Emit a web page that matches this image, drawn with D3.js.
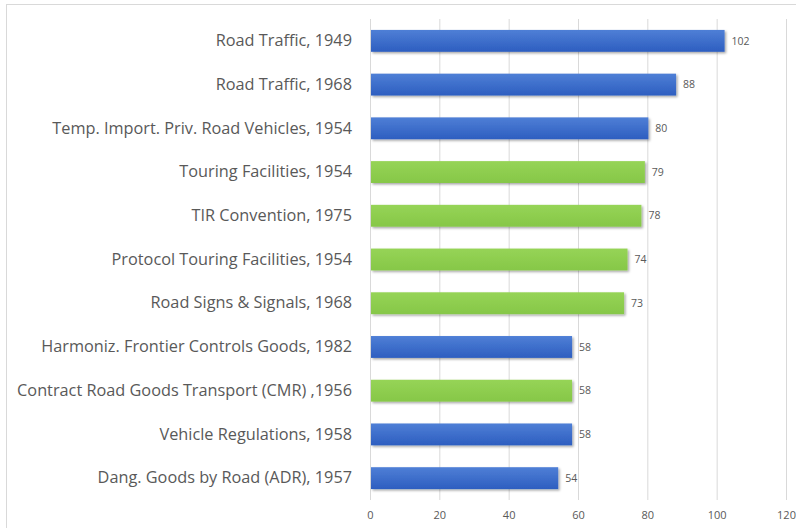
<!DOCTYPE html>
<meta charset="utf-8">
<script src="https://d3js.org/d3.v7.min.js"></script>
<style>
  body { margin: 0; background: #fff; }
  text { font-family: "Open Sans", "Liberation Sans", sans-serif; fill: #595959; }
</style>
<div id="my_dataviz"></div>
<script>
// chart data, top to bottom
var categories = [
  "Road Traffic, 1949",
  "Road Traffic, 1968",
  "Temp. Import. Priv. Road Vehicles, 1954",
  "Touring Facilities, 1954",
  "TIR Convention, 1975",
  "Protocol Touring Facilities, 1954",
  "Road Signs & Signals, 1968",
  "Harmoniz. Frontier Controls Goods, 1982",
  "Contract Road Goods Transport (CMR) ,1956",
  "Vehicle Regulations, 1958",
  "Dang. Goods by Road (ADR), 1957"
];
var values = [102, 88, 80, 79, 78, 74, 73, 58, 58, 58, 54];
var groups = ["blue", "blue", "blue", "green", "green", "green", "green", "blue", "green", "blue", "blue"];
var xTicks = [0, 20, 40, 60, 80, 100, 120];

var W = 796, H = 528;
var margin = {top: 19, right: 10, bottom: 28, left: 370},
    width = 786 - margin.left,
    height = 500 - margin.top;

var root = d3.select("#my_dataviz").append("svg")
    .attr("width", W).attr("height", H);

// outer frame (only top/left edges visible in the picture)
root.append("rect")
    .attr("x", 6.5).attr("y", 4.5)
    .attr("width", W + 20).attr("height", H + 20)
    .attr("fill", "none").attr("stroke", "#d9d9d9");

var defs = root.append("defs");
var grads = {blue: ["#4f7fd6", "#2d5ec0"], green: ["#96d456", "#86c748"]};
Object.keys(grads).forEach(function(k) {
  var g = defs.append("linearGradient").attr("id", "g_" + k)
      .attr("x1", 0).attr("y1", 0).attr("x2", 0).attr("y2", 1);
  g.append("stop").attr("offset", "0%").attr("stop-color", grads[k][0]);
  g.append("stop").attr("offset", "100%").attr("stop-color", grads[k][1]);
});
var f = defs.append("filter").attr("id", "shadow")
    .attr("x", "-5%").attr("y", "-30%").attr("width", "110%").attr("height", "170%");
f.append("feDropShadow").attr("dx", 1.5).attr("dy", 1.5).attr("stdDeviation", 1.2)
    .attr("flood-color", "#000").attr("flood-opacity", 0.35);

var svg = root.append("g")
    .attr("transform", "translate(" + margin.left + "," + margin.top + ")");

var x = d3.scaleLinear().domain([0, 120]).range([0, width]);
var y = d3.scaleBand().domain(categories).range([0, height]).paddingInner(0.5).paddingOuter(0.25);

// gridlines
svg.selectAll(".grid").data(xTicks).enter().append("line")
    .attr("x1", d => x(d) + 0.5).attr("x2", d => x(d) + 0.5)
    .attr("y1", 0).attr("y2", height)
    .attr("stroke", "#d9d9d9").attr("stroke-width", 1);

// x axis labels
var xAxis = svg.append("g")
    .attr("transform", "translate(0," + height + ")")
    .call(d3.axisBottom(x).tickValues(xTicks).tickSize(0).tickPadding(11));
xAxis.select(".domain").remove();
xAxis.selectAll("text").style("font-size", "11px").attr("fill", "#595959");

// y axis labels
var yAxis = svg.append("g")
    .call(d3.axisLeft(y).tickSize(0).tickPadding(18));
yAxis.select(".domain").remove();
yAxis.selectAll("text").style("font-size", "16.3px").attr("fill", "#595959");

// bars
svg.selectAll(".bar").data(values).enter().append("rect")
    .attr("x", x(0) + 1)
    .attr("y", (d, i) => y(categories[i]))
    .attr("width", d => x(d) - x(0))
    .attr("height", y.bandwidth())
    .attr("fill", (d, i) => "url(#g_" + groups[i] + ")")
    .attr("filter", "url(#shadow)");

// value labels
svg.selectAll(".lbl").data(values).enter().append("text")
    .attr("x", d => x(d) + 8)
    .attr("y", (d, i) => y(categories[i]) + y.bandwidth() / 2)
    .attr("dy", "0.35em")
    .style("font-size", "10.5px")
    .text(d => d);
</script>
